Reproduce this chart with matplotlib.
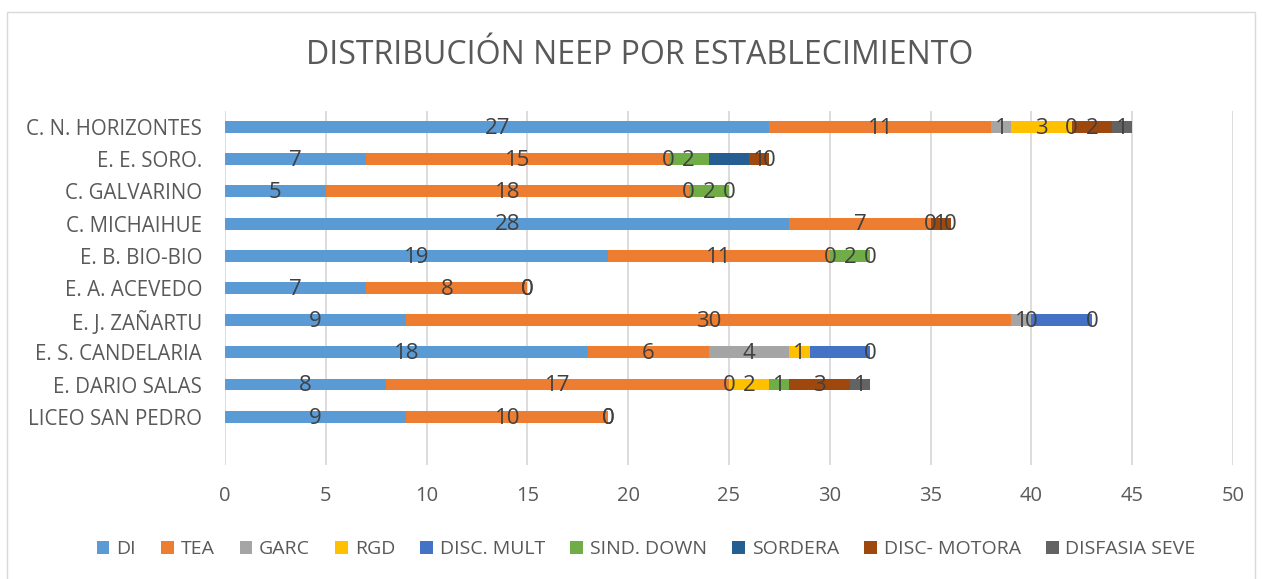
import numpy as np
import matplotlib.pyplot as plt
from matplotlib.patches import Rectangle

plt.rcParams['font.family'] = ['Open Sans', 'DejaVu Sans']

# bottom to top
schools = ['LICEO SAN PEDRO', 'E. DARIO SALAS', 'E. S. CANDELARIA', 'E. J. ZAÑARTU',
           'E. A. ACEVEDO', 'E. B. BIO-BIO', 'C. MICHAIHUE', 'C. GALVARINO',
           'E. E. SORO.', 'C. N. HORIZONTES']

series = ['DI', 'TEA', 'GARC', 'RGD', 'DISC. MULT', 'SIND. DOWN', 'SORDERA',
          'DISC- MOTORA', 'DISFASIA SEVE']

nan = np.nan
di = [9, 8, 18, 9, 7, 19, 28, 5, 7, 27]
tea = [10, 17, 6, 30, 8, 11, 7, 18, 15, 11]
garc = [0, 0, 4, 1, 0, 0, 0, 0, 0, 1]
rgd = [nan, 2, 1, 0, nan, nan, nan, nan, nan, 3]
disc_mult = [nan, nan, 3, 3, nan, nan, nan, nan, nan, nan]
sind_down = [nan, 1, nan, nan, nan, 2, nan, 2, 2, 0]
sordera = [nan, nan, nan, nan, nan, nan, nan, nan, 2, nan]
disc_motora = [nan, 3, nan, nan, nan, nan, 1, nan, 1, 2]
disfasia = [0, 1, 0, 0, 0, 0, 0, 0, 0, 1]

values = [di, tea, garc, rgd, disc_mult, sind_down, sordera, disc_motora, disfasia]
colors = ['#5B9BD5', '#ED7D31', '#A5A5A5', '#FFC000', '#4472C4', '#70AD47',
          '#255E91', '#9E480E', '#636363']
no_labels = ['DISC. MULT', 'SORDERA']

fig = plt.figure(figsize=(12.62, 5.79), dpi=100)
ax = fig.add_axes([0.1783, 0.1969, 0.7987, 0.6114])

y = np.arange(len(schools))
left = np.zeros(len(schools))
for name, vals, col in zip(series, values, colors):
    v = np.array(vals, dtype=float)
    w = np.nan_to_num(v)
    ax.barh(y, w, left=left, height=0.37, color=col, label=name, zorder=2)
    if name not in no_labels:
        for yi, (l, wi, raw) in enumerate(zip(left, w, v)):
            if not np.isnan(raw):
                ax.text(l + wi / 2, yi - 0.04, f'{int(raw)}', ha='center', va='center',
                        fontsize=16, color='#404040', zorder=3)
    left = left + w

ax.set_xlim(0, 50)
ax.set_ylim(-1.5, 9.5)
ax.set_xticks(range(0, 51, 5))
ax.set_yticks(y)
ax.set_yticklabels(schools)
ax.grid(axis='x', color='#D9D9D9', linewidth=1.3, zorder=0)
for s in ax.spines.values():
    s.set_visible(False)
ax.tick_params(axis='both', length=0, colors='#595959')
ax.tick_params(axis='x', pad=15, labelsize=14.5)
ax.tick_params(axis='y', pad=16.5, labelsize=14.8)

fig.text(0.507, 1 - 56 / 579, 'DISTRIBUCIÓN NEEP POR ESTABLECIMIENTO', ha='center',
         va='center', fontsize=23, color='#595959')

fig.legend(loc='center', bbox_to_anchor=(0.512, 1 - 549 / 579), ncol=9, frameon=False,
           fontsize=14, labelcolor='#595959', handlelength=0.65, handleheight=0.65,
           handletextpad=0.35, columnspacing=1.3)

fig.patches.append(Rectangle((7 / 1262, -0.01), 1 - 14 / 1262, 1 - 12 / 579 + 0.01,
                             transform=fig.transFigure, fill=False,
                             edgecolor='#D9D9D9', linewidth=1))

fig.savefig('out.png', dpi=100)
